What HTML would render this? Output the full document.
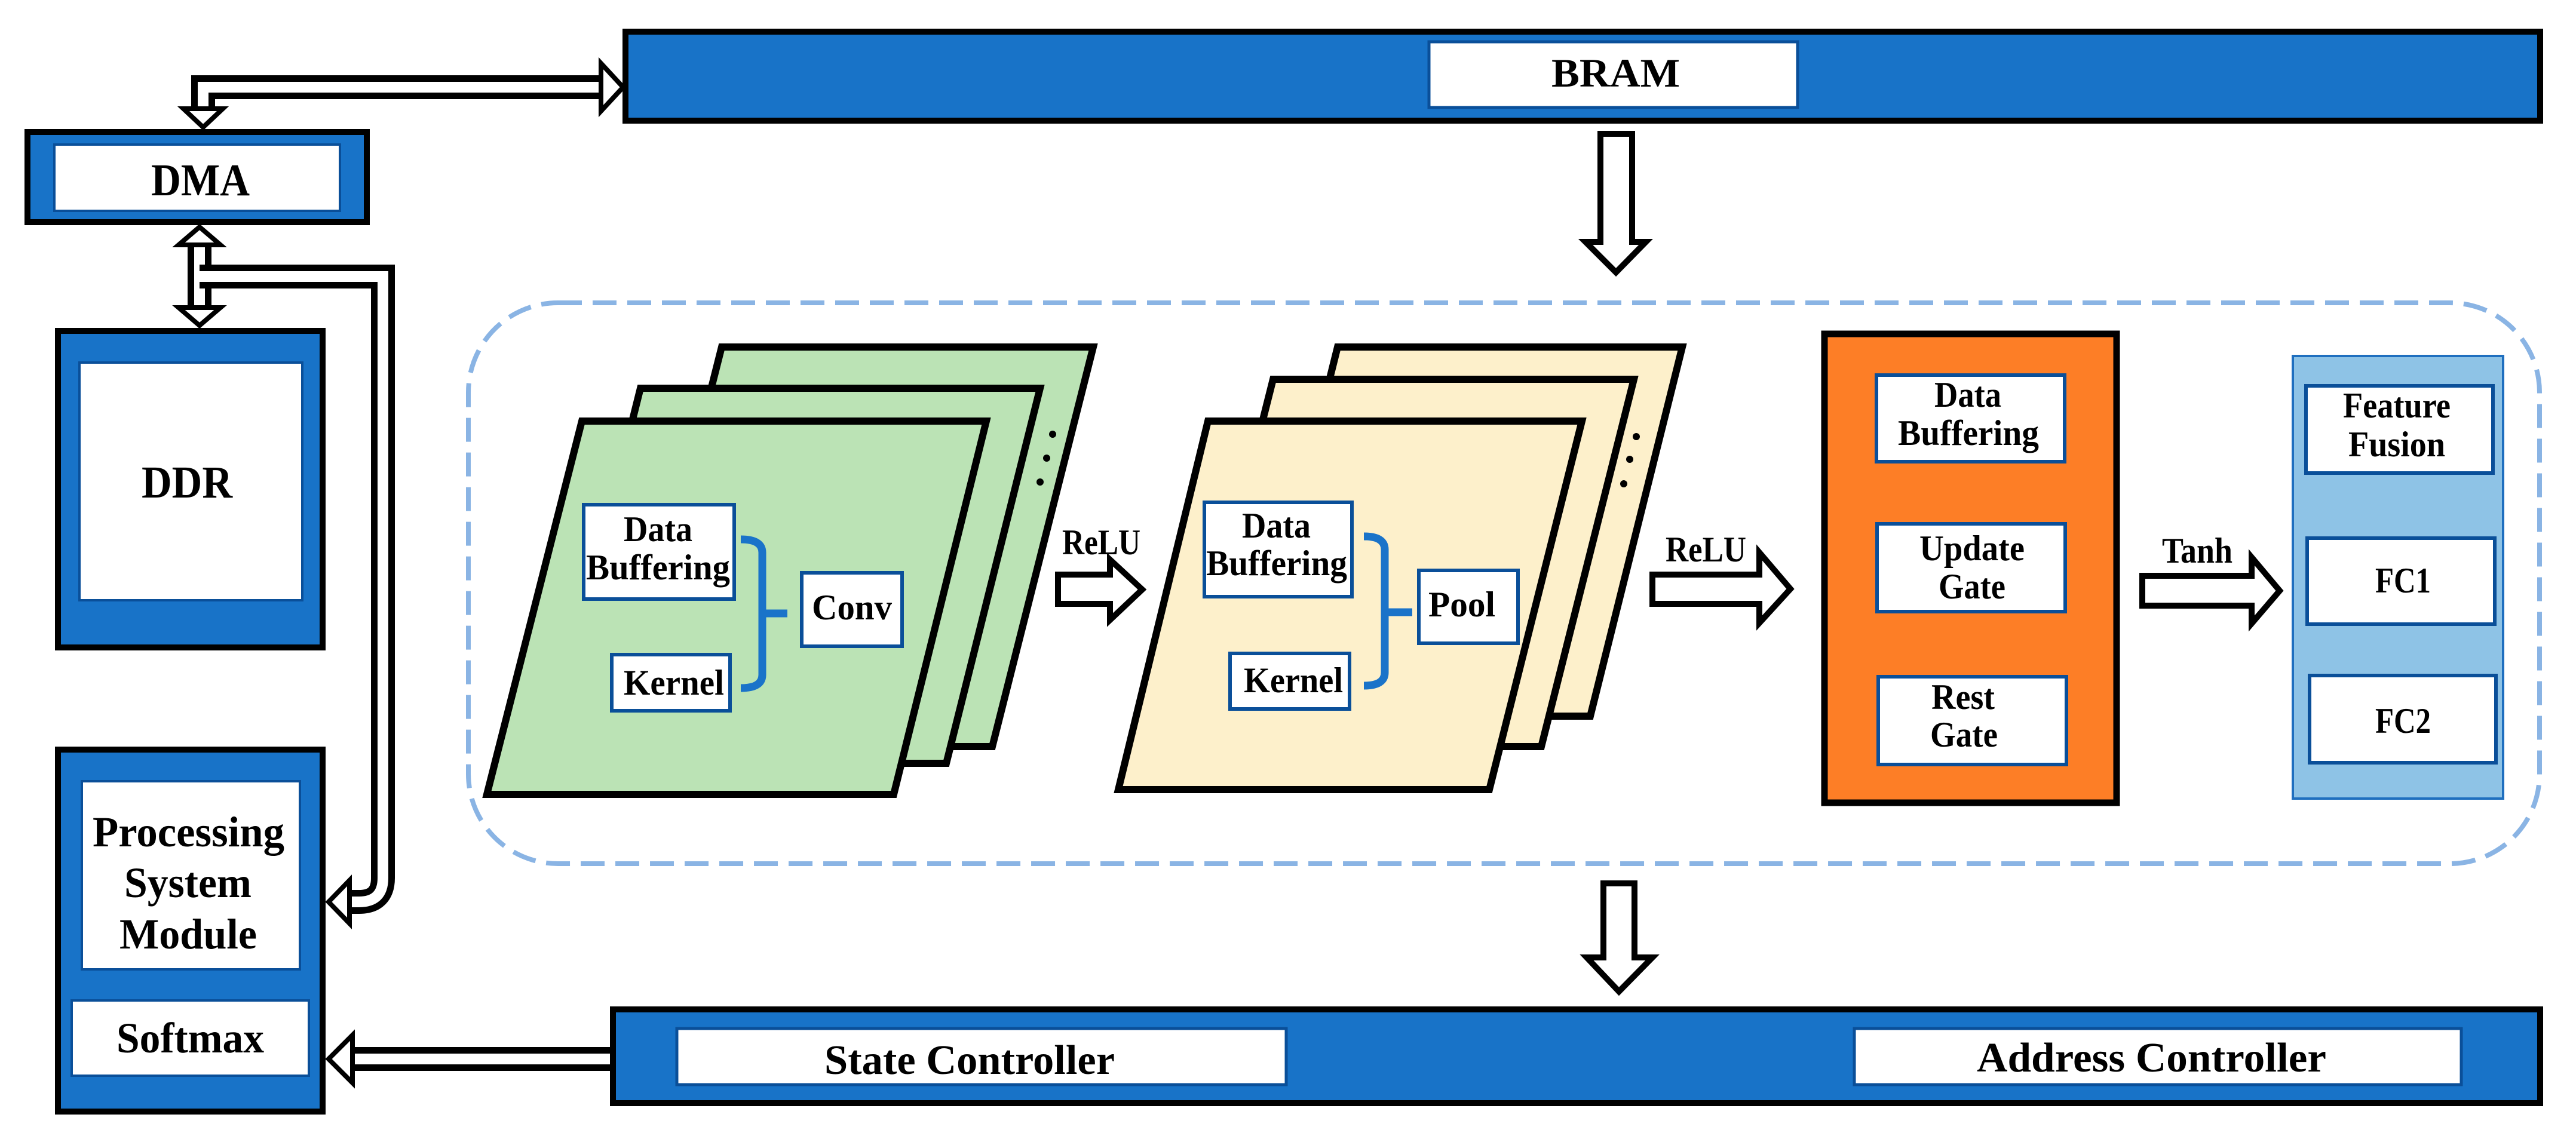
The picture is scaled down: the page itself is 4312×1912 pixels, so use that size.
<!DOCTYPE html>
<html><head><meta charset="utf-8"><style>html,body{margin:0;padding:0;background:#fff}svg{display:block}svg text{font-family:"Liberation Serif","Times New Roman","DejaVu Serif",serif;font-weight:bold;fill:#000}</style></head>
<body>
<svg width="4312" height="1912" viewBox="0 0 4312 1912" xmlns="http://www.w3.org/2000/svg" font-family="Liberation Serif, DejaVu Serif, serif" font-weight="bold">
<rect width="4312" height="1912" fill="#fff"/>
<rect x="784" y="507" width="3467" height="939" rx="150" ry="150" fill="none" stroke="#8ab4e4" stroke-width="8" stroke-dasharray="40 18"/>

<rect x="1047" y="53" width="3205" height="149" fill="#1873c8" stroke="#000" stroke-width="10"/>
<rect x="2392" y="70" width="617" height="110" fill="#fff" stroke="#0a4f99" stroke-width="5"/>
<text x="2597" y="145" font-size="68" textLength="215" lengthAdjust="spacingAndGlyphs">BRAM</text>

<rect x="1026" y="1690" width="3226" height="157" fill="#1873c8" stroke="#000" stroke-width="10"/>
<rect x="1133" y="1722" width="1020" height="94" fill="#fff" stroke="#0a4f99" stroke-width="5"/>
<rect x="3104" y="1722" width="1016" height="94" fill="#fff" stroke="#0a4f99" stroke-width="5"/>
<text x="1380" y="1798" font-size="70" textLength="486" lengthAdjust="spacingAndGlyphs">State Controller</text>
<text x="3309" y="1794" font-size="70" textLength="585" lengthAdjust="spacingAndGlyphs">Address Controller</text>

<rect x="46" y="221" width="568" height="151" fill="#1873c8" stroke="#000" stroke-width="10"/>
<rect x="91" y="242" width="478" height="111" fill="#fff" stroke="#0a4f99" stroke-width="4"/>
<text x="253" y="327" font-size="76" textLength="165" lengthAdjust="spacingAndGlyphs">DMA</text>

<rect x="97" y="554" width="443" height="530" fill="#1873c8" stroke="#000" stroke-width="10"/>
<rect x="133" y="607" width="373" height="398" fill="#fff" stroke="#0a4f99" stroke-width="4"/>
<text x="237" y="833" font-size="76" textLength="152" lengthAdjust="spacingAndGlyphs">DDR</text>

<rect x="97" y="1255" width="443" height="606" fill="#1873c8" stroke="#000" stroke-width="10"/>
<rect x="137" y="1308" width="365" height="315" fill="#fff" stroke="#0a4f99" stroke-width="4"/>
<rect x="120" y="1675" width="397" height="126" fill="#fff" stroke="#0a4f99" stroke-width="4"/>
<text x="155" y="1417" font-size="72" textLength="321" lengthAdjust="spacingAndGlyphs">Processing</text>
<text x="208" y="1502" font-size="72" textLength="213" lengthAdjust="spacingAndGlyphs">System</text>
<text x="200" y="1588" font-size="72" textLength="230" lengthAdjust="spacingAndGlyphs">Module</text>
<text x="195" y="1762" font-size="72" textLength="247" lengthAdjust="spacingAndGlyphs">Softmax</text>

<g fill="none" stroke-linejoin="miter">
<path d="M1006 146 H340 V185" stroke="#000" stroke-width="40"/>
<path d="M1010 146 H340 V190" stroke="#fff" stroke-width="18"/>
<path d="M334 405 V520" stroke="#000" stroke-width="40"/>
<path d="M334 400 V525" stroke="#fff" stroke-width="18"/>
<path d="M334 463 H641 V1470 Q641 1510 601 1510 H585" stroke="#000" stroke-width="40"/>
<path d="M334 463 H641 V1470 Q641 1510 601 1510 H580" stroke="#fff" stroke-width="18"/>
<path d="M1021 1773 H590" stroke="#000" stroke-width="40"/>
<path d="M1021 1773 H585" stroke="#fff" stroke-width="18"/>
</g>
<g fill="#fff" stroke="#000" stroke-width="8" stroke-linejoin="miter">
<polygon points="1006,106 1043,146 1006,186"/>
<polygon points="307,182 373,182 340,213"/>
<polygon points="299,410 369,410 334,380"/>
<polygon points="299,515 369,515 334,545"/>
<polygon points="585,1474 585,1546 550,1510"/>
<polygon points="590,1733 590,1813 550,1773"/>
</g>

<g fill="#fff" stroke="#000" stroke-width="10" stroke-linejoin="miter">
<polygon points="2679,224 2732,224 2732,405 2755,405 2705,456 2654,405 2679,405"/>
<polygon points="2684,1479 2736,1479 2736,1603 2766,1603 2710,1660 2656,1603 2684,1603"/>
<polygon points="1771,962 1858,962 1858,937 1912,987 1858,1038 1858,1011 1771,1011"/>
<polygon points="2766,962 2945,962 2945,925 2997,986 2945,1043 2945,1011 2766,1011"/>
<polygon points="3586,964 3769,964 3769,933 3816,989 3769,1044 3769,1014 3586,1014"/>
</g>

<g stroke="#000" stroke-width="12" fill="#bbe3b5" stroke-linejoin="miter">
<polygon points="1208,581 1830,581 1661,1250 1039,1250"/>
<polygon points="1072,650 1741,650 1584,1278 915,1278"/>
<polygon points="974,705 1651,705 1496,1330 815,1330"/>
</g>
<circle cx="1762" cy="727" r="6"/><circle cx="1752" cy="767" r="6"/><circle cx="1741" cy="807" r="6"/>
<g stroke="#000" stroke-width="12" fill="#fdf0cb" stroke-linejoin="miter">
<polygon points="2239,581 2816,581 2662,1199 2085,1199"/>
<polygon points="2131,635 2735,635 2580,1250 1976,1250"/>
<polygon points="2022,705 2648,705 2493,1322 1872,1322"/>
</g>
<circle cx="2739" cy="731" r="6"/><circle cx="2728" cy="769" r="6"/><circle cx="2718" cy="810" r="6"/>

<g fill="#fff" stroke="#0a4f99" stroke-width="6">
<rect x="977" y="845" width="252" height="158"/>
<rect x="1024" y="1096" width="198" height="94"/>
<rect x="1342" y="959" width="168" height="123"/>
<rect x="2016" y="841" width="247" height="158"/>
<rect x="2059" y="1094" width="200" height="93"/>
<rect x="2375" y="955" width="166" height="122"/>
</g>
<g fill="none" stroke="#1a73c9" stroke-width="13">
<path d="M1240 903 Q1276 903 1276 925 V1130 Q1276 1152 1240 1152"/>
<path d="M1276 1027 H1318"/>
<path d="M2283 898 Q2318 898 2318 920 V1126 Q2318 1148 2283 1148"/>
<path d="M2318 1025 H2364"/>
</g>
<g font-size="60">
<text x="1044" y="906" textLength="115" lengthAdjust="spacingAndGlyphs">Data</text>
<text x="981" y="970" textLength="241" lengthAdjust="spacingAndGlyphs">Buffering</text>
<text x="1044" y="1163" textLength="168" lengthAdjust="spacingAndGlyphs">Kernel</text>
<text x="1359" y="1037" textLength="134" lengthAdjust="spacingAndGlyphs">Conv</text>
<text x="1778" y="928" textLength="131" lengthAdjust="spacingAndGlyphs">ReLU</text>
<text x="2079" y="900" textLength="115" lengthAdjust="spacingAndGlyphs">Data</text>
<text x="2019" y="963" textLength="236" lengthAdjust="spacingAndGlyphs">Buffering</text>
<text x="2082" y="1159" textLength="166" lengthAdjust="spacingAndGlyphs">Kernel</text>
<text x="2391" y="1032" textLength="112" lengthAdjust="spacingAndGlyphs">Pool</text>
<text x="2788" y="940" textLength="135" lengthAdjust="spacingAndGlyphs">ReLU</text>
<text x="3619" y="942" textLength="118" lengthAdjust="spacingAndGlyphs">Tanh</text>
</g>

<rect x="3054" y="559" width="489" height="785" fill="#fd7e26" stroke="#000" stroke-width="11"/>
<rect x="3838" y="596" width="352" height="741" fill="#8ec3e6" stroke="#1f6fbf" stroke-width="4"/>
<g fill="#fff" stroke="#0a4f99" stroke-width="6">
<rect x="3141" y="628" width="315" height="145"/>
<rect x="3142" y="877" width="315" height="147"/>
<rect x="3144" y="1133" width="315" height="147"/>
<rect x="3860" y="646" width="313" height="146"/>
<rect x="3862" y="901" width="314" height="144"/>
<rect x="3866" y="1131" width="312" height="146"/>
</g>
<g font-size="60">
<text x="3238" y="681" textLength="112" lengthAdjust="spacingAndGlyphs">Data</text>
<text x="3177" y="745" textLength="236" lengthAdjust="spacingAndGlyphs">Buffering</text>
<text x="3213" y="938" textLength="176" lengthAdjust="spacingAndGlyphs">Update</text>
<text x="3245" y="1002" textLength="112" lengthAdjust="spacingAndGlyphs">Gate</text>
<text x="3233" y="1187" textLength="106" lengthAdjust="spacingAndGlyphs">Rest</text>
<text x="3231" y="1250" textLength="113" lengthAdjust="spacingAndGlyphs">Gate</text>
<text x="3922" y="699" textLength="180" lengthAdjust="spacingAndGlyphs">Feature</text>
<text x="3931" y="764" textLength="162" lengthAdjust="spacingAndGlyphs">Fusion</text>
<text x="3976" y="992" textLength="93" lengthAdjust="spacingAndGlyphs">FC1</text>
<text x="3976" y="1227" textLength="93" lengthAdjust="spacingAndGlyphs">FC2</text>
</g>
</svg>
</body></html>
